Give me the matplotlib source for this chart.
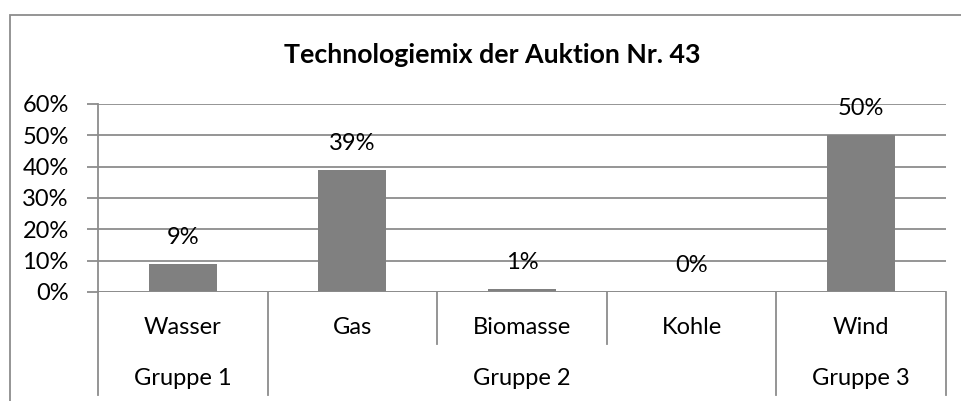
import matplotlib.pyplot as plt
import matplotlib.transforms as mtransforms
from matplotlib.patches import Rectangle
from matplotlib.ticker import PercentFormatter

# === Daten ===
categories = ["Wasser", "Gas", "Biomasse", "Kohle", "Wind"]
shares = [0.09, 0.39, 0.01, 0.00, 0.50]
groups = ["Gruppe 1", "Gruppe 2", "Gruppe 3"]
group_sizes = [1, 3, 1]
yticks = [0, 0.1, 0.2, 0.3, 0.4, 0.5, 0.6]

plt.rcParams['font.family'] = ['Lato', 'DejaVu Sans']

W, H = 961, 401
fig = plt.figure(figsize=(W / 100, H / 100), dpi=100)

# Rahmen des Diagramms (rechts und unten abgeschnitten)
fig.patches.append(Rectangle((10 / W, -0.1), 1.2, 1.1 - 15 / H, transform=fig.transFigure,
                             fill=False, edgecolor='#8c8c8c', linewidth=1.3))

ax = fig.add_axes([98 / W, 1 - 292 / H, (946 - 98) / W, (292 - 104) / H])
grid_col = '#8c8c8c'
fs = 17

x = range(len(categories))
ax.bar(x, shares, width=0.4, color='#808080', zorder=3)
ax.set_xlim(-0.5, len(categories) - 0.5)
ax.set_ylim(0, 0.6)
ax.set_yticks(yticks)
ax.yaxis.set_major_formatter(PercentFormatter(1.0, decimals=0))
ax.tick_params(axis='y', length=8, width=1.3, color=grid_col, labelsize=fs, pad=13)
ax.set_xticks([])
ax.grid(axis='y', color=grid_col, linewidth=1.3, zorder=0)
for s in ['top', 'right', 'bottom']:
    ax.spines[s].set_visible(False)
ax.spines['left'].set_color(grid_col)
ax.spines['left'].set_linewidth(1.3)
ax.axhline(0, color=grid_col, linewidth=1.3, zorder=4)

for xi, v in zip(x, shares):
    ax.annotate(f"{v * 100:.0f}%", (xi, v), xytext=(0, 19), textcoords='offset points',
                ha='center', va='center', fontsize=fs)

# Mehrstufige Kategorienachse
trans = mtransforms.blended_transform_factory(ax.transData, ax.transAxes)
short_y = -(344 - 292) / 188
long_y = -(395 - 292) / 188
bounds = [i - 0.5 for i in range(len(categories) + 1)]
group_edges = [-0.5]
for n in group_sizes:
    group_edges.append(group_edges[-1] + n)
for b in bounds:
    y_end = long_y if b in group_edges else short_y
    ax.plot([b, b], [0, y_end], transform=trans, color=grid_col, linewidth=1.3, clip_on=False)

for xi, name in zip(x, categories):
    ax.text(xi, -(327 - 292) / 188, name, transform=trans, ha='center', va='center', fontsize=fs)
for i, g in enumerate(groups):
    mid = (group_edges[i] + group_edges[i + 1]) / 2
    ax.text(mid, -(378 - 292) / 188, g, transform=trans, ha='center', va='center', fontsize=fs)

fig.text(492 / W, 1 - 55 / H, "Technologiemix der Auktion Nr. 43", ha='center', va='center',
         fontsize=19.3, fontweight='bold')

fig.savefig("out.png", dpi=100)
